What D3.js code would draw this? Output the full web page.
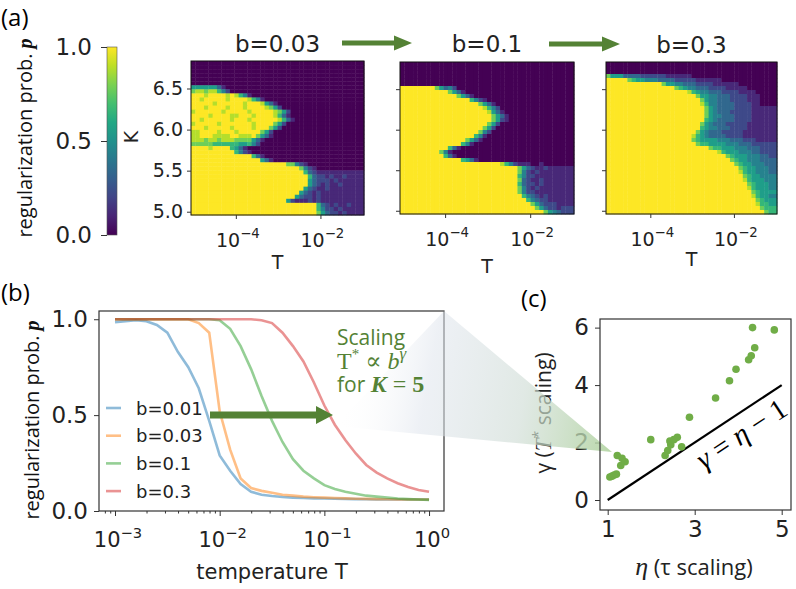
<!DOCTYPE html>
<html>
<head>
<meta charset="utf-8">
<script src="https://cdn.jsdelivr.net/npm/d3@7"></script>
<style>
  body { margin: 0; background: #fff; }
  text { font-family: "DejaVu Sans", sans-serif; }
  .ppt { font-family: "Open Sans", sans-serif; }
  .mth { font-family: "Liberation Serif", "DejaVu Serif", serif; }
</style>
</head>
<body>
<svg id="fig" width="796" height="589"></svg>
<script>
// ---------- data ----------
// (a) heatmaps: rows top (high K) -> bottom, run-length "value:count", value = p*9
const heatTitles = ["b=0.03", "b=0.1", "b=0.3"];
const heat003 = [
  "0", "0", "0", "0", "0", "0",
  "5:6,3,1,0",
  "7,8:2,7,8:2,6,4,2,0",
  "9:3,8,9:4,8,9,8,6,4,1,0",
  "9:2,8,9:5,8,9:4,8,6,4,1,0",
  "9:5,8,9:6,8,9:3,8,5,3,1,0",
  "9:3,8,9:4,8,9:3,8,9:4,8,7,5,2,0",
  "8,9:6,8,9:5,8,9:4,9,8,7,5,2,0",
  "9:4,8,9:4,8,8,9:3,8,9:4,8,6,3,1,0",
  "9:2,8,9:6,8,9:3,8,9:6,8,6,3,1,0",
  "8,9:5,8,9:7,8,9:4,7,5,2,0",
  "9:3,8,9:5,8,9:4,8,9:3,7,5,2,0",
  "8:2,9:4,8,9:3,8,9:5,7,5,2,0",
  "8,8,9:3,8,8:3,9:2,8,8:2,9,7,5,3,1,0",
  "8:3,7,8:2,7,8:3,7:2,7,7,5,3,1,0",
  "7,7,7:3,6:2,6,6:3,5:2,6,4,2,0",
  "9:4,8,9:4,6,5,3,1,0",
  "9:10,6,4,2,1,0",
  "9:14,6,3,1,0",
  "9:16,5,3,1,0",
  "9:22,7:2,4,2,1,0",
  "9:25,7,4,2,1,0",
  "9:26,6,3,2,1",
  "9:27,6,3,2:2,1,2,1:2,2,1",
  "9:27,5,3,2:3,1,2,1",
  "9:27,5,3,2,1,2,1:2,2,1",
  "9:26,5,3,2,1:2,2,1",
  "9:25,5,3,2,1,2,1",
  "9:24,5,3,2:2,1,2,1",
  "9:22,5,2,1:3,2,1,2,1",
  "9:29,6,3,2,1,2,1:2,2,1",
  "9:29,6,4,2:2,1,2,1",
  "9:29,7,5,3,2:2,1,2,1"
];
const heat01 = [
  "0", "0", "0", "0", "0", "0",
  "9:8,7,5,3,4,2,0",
  "9:11,7,5,3,1,0",
  "9:13,7,5,3,1,0",
  "9:16,6,4,2,1,0",
  "9:18,7,5,3,1,0",
  "9:19,8,6,4,2,0",
  "9:20,8,5,3,1,0",
  "9:21,7,5,3,1,0",
  "9:21,7,5,2,1,0",
  "9:20,7,5,2,0",
  "9:19,7,5,2,0",
  "9:18,7,4,2,0",
  "9:17,6,4,1,0",
  "9:15,7,5,3,1,0",
  "9:14,6,4,1,0",
  "9:11,6,3,1,0",
  "9:9,7,4,1,0",
  "9:10,6,3,1,0",
  "9:14,6,5,3,1,0",
  "9:23,8,6,4,2,1:3,0:2,1,0",
  "9:27,7,5,3,2,1:2,2,1",
  "9:27,7,4,2,1,2,1",
  "9:27,6,4,2:2,1",
  "9:27,7,3,2,1:2,2,1",
  "9:27,6,3,2:2,1,2,1",
  "9:27,7,4,2,1,2,1",
  "9:27,7,4,2:2,1",
  "9:28,6,4,3,2,1,2,1",
  "9:29,6,4,3,2:2,1",
  "9:30,7,5,3,2:3,1",
  "9:31,7,5,3,2:2,1,2",
  "9:33,7,5,4,3,2"
];
const heat03 = [
  "0", "0", "0",
  "7,5:3,3:4,2:6,1:6,0",
  "9:5,7,6,5:2,4:3,3:4,2:5,1:6,0",
  "9:13,7,5:2,4:2,3:3,2:4,1:6,0",
  "9:16,7,6,5,4:2,3:3,2:4,1:5,0",
  "9:19,8,6,5,4:2,3:3,2:4,1:4,0",
  "9:21,7,5:2,4:2,3:3,2:4,1:3,0",
  "9:22,7,5,4:2,3:3,2:4,1:3,0",
  "9:22,8,6,4:2,3:4,2:4,1:2,0",
  "9:23,7,5,4,3:4,2:4,1",
  "9:23,7,5,4,3:3,2:5,1",
  "9:23,7,5,4:2,3:3,2:4,1",
  "9:23,6,5,4,3:4,2:4,1",
  "9:22,7,5,4,3:3,2:5,1",
  "9:22,6,5,4:2,3:3,2:4,1",
  "9:21,7,5,4,3:3,2:5,1",
  "9:20,8,6,5,4,3:4,2:4,1",
  "9:20,7,6,5:4,4:3,3:3,2:3,1",
  "9:21,7,6:2,5:4,4:3,3:3,2",
  "9:24,7,6:2,5:3,4:3,3:3,2",
  "9:26,8,6,5:3,4:3,3:2,2",
  "9:28,7,6,5:3,4:3,3:2,2",
  "9:29,7,6,5:2,4:3,3",
  "9:30,7,6,5:2,4:3,3",
  "9:31,7,6,5:2,4:3,3",
  "9:31,8,6,5:2,4:3,3",
  "9:32,7,6,5:2,4",
  "9:32,8,6,5:3,4",
  "9:33,7,6,5:3,4",
  "9:33,8,6,5:3,4",
  "9:34,7,6,5",
  "9:34,8,6,5:2,4",
  "9:35,7,6,5",
  "9:35,8,6:2,5",
  "9:36,7,6",
  "9:37,7,6"
];
const heatCols = 40;
const logTRange = [-5.06, -0.97];
const kRange = [4.96, 6.835];
const kTicks = [5.0, 5.5, 6.0, 6.5];
const tTicksA = [-4, -2];
const cbTicks = [0, 0.5, 1];

// (b) p versus temperature
const legendB = ["b=0.01", "b=0.03", "b=0.1", "b=0.3"];
const logTB = [-3.0, -2.9, -2.8, -2.7, -2.6, -2.5, -2.4, -2.3, -2.2, -2.1, -2.0,
  -1.9, -1.8, -1.7, -1.6, -1.5, -1.4, -1.3, -1.2, -1.1, -1.0,
  -0.9, -0.8, -0.7, -0.6, -0.5, -0.4, -0.3, -0.2, -0.1, 0.0];
const pB001 = [0.985, 0.99, 0.995, 0.99, 0.97, 0.93, 0.83, 0.75, 0.64, 0.47, 0.29,
  0.21, 0.14, 0.10, 0.085, 0.078, 0.073, 0.07, 0.068, 0.066, 0.065,
  0.064, 0.063, 0.062, 0.061, 0.06, 0.06, 0.06, 0.06, 0.06, 0.06];
const pB003 = [1, 1, 1, 1, 1, 1, 1, 1, 0.98, 0.93, 0.52,
  0.32, 0.17, 0.12, 0.105, 0.095, 0.085, 0.08, 0.075, 0.072, 0.07,
  0.068, 0.066, 0.064, 0.063, 0.062, 0.061, 0.06, 0.06, 0.06, 0.06];
const pB01 = [1, 1, 1, 1, 1, 1, 1, 1, 1, 1, 0.995,
  0.95, 0.86, 0.74, 0.6, 0.47, 0.36, 0.27, 0.21, 0.17, 0.135,
  0.115, 0.1, 0.09, 0.08, 0.075, 0.07, 0.065, 0.062, 0.06, 0.058];
const pB03 = [1, 1, 1, 1, 1, 1, 1, 1, 1, 1, 1,
  1, 1, 1, 0.995, 0.98, 0.93, 0.86, 0.78, 0.67, 0.55,
  0.45, 0.37, 0.30, 0.24, 0.20, 0.17, 0.145, 0.125, 0.11, 0.10];
const colorsB = ["#1f77b4", "#ff7f0e", "#2ca02c", "#d62728"];
const pTicksB = [0, 0.5, 1];
const tTicksB = [-3, -2, -1, 0];

// (c) gamma versus eta
const etaC = [1.05, 1.10, 1.15, 1.20, 1.22, 1.33, 1.40, 1.30, 1.99, 2.32, 2.38, 2.45, 2.43,
  2.52, 2.60, 2.70, 2.88, 3.48, 3.80, 3.95, 4.24, 4.30, 4.38, 4.33, 4.83];
const gammaC = [0.80, 0.83, 0.87, 0.90, 1.55, 1.45, 1.33, 1.20, 2.10, 1.55, 1.72, 1.92, 2.05,
  2.10, 2.18, 1.85, 2.88, 3.55, 4.15, 4.55, 4.88, 5.02, 5.30, 6.00, 5.92];
const refEta = [1, 5];
const refGamma = [0, 4];
const etaTicks = [1, 3, 5];
const gammaTicks = [0, 2, 4, 6];

// ---------- helpers ----------
const svg = d3.select("#fig");
svg.append("rect").attr("width", 796).attr("height", 589).attr("fill", "#fff");
const defs = svg.append("defs");
const dkGreen = "#548235";
const ink = "#222";

function decodeRow(s, n) {
  const out = [];
  s.split(",").forEach(function (tok) {
    const parts = tok.split(":");
    const cnt = parts.length > 1 ? +parts[1] : 1;
    for (let i = 0; i < cnt; i++) out.push(+parts[0] / 9);
  });
  while (out.length < n) out.push(out[out.length - 1]);
  return out.slice(0, n);
}

function arrow(x1, x2, y, s, hw, hl) {
  const p = d3.path();
  p.moveTo(x1, y - s / 2); p.lineTo(x2 - hl, y - s / 2); p.lineTo(x2 - hl, y - hw / 2);
  p.lineTo(x2, y); p.lineTo(x2 - hl, y + hw / 2); p.lineTo(x2 - hl, y + s / 2);
  p.lineTo(x1, y + s / 2); p.closePath();
  svg.append("path").attr("d", p.toString()).attr("fill", dkGreen);
}

function powLabel(sel, e, size) {
  sel.attr("font-size", size).attr("fill", ink).text("10");
  sel.append("tspan").attr("dy", -size * 0.45).attr("font-size", size * 0.7)
    .text(e < 0 ? "\u2212" + Math.abs(e) : String(e));
}

function styleAxis(ax, size) {
  ax.select(".domain").remove();
  ax.selectAll("line").attr("stroke", "#333");
  ax.selectAll("text").attr("font-size", size).attr("font-family", "DejaVu Sans").attr("fill", ink);
}

function probLabel(x, y, size) {
  const t = svg.append("text").attr("class", "ppt")
    .attr("transform", `translate(${x},${y}) rotate(-90)`)
    .attr("text-anchor", "middle").attr("font-size", size).attr("fill", "#111")
    .text("regularization prob. ");
  t.append("tspan").attr("class", "mth").attr("font-weight", "bold")
    .attr("font-style", "italic").text("p");
}

// ---------- (a) ----------
svg.append("text").attr("class", "ppt").attr("x", 1).attr("y", 26)
  .attr("font-size", 24).attr("fill", "#000").text("(a)");

// colorbar
const cbGrad = defs.append("linearGradient").attr("id", "cbg")
  .attr("x1", 0).attr("y1", 1).attr("x2", 0).attr("y2", 0);
d3.range(0, 1.0001, 0.1).forEach(function (o) {
  cbGrad.append("stop").attr("offset", o).attr("stop-color", d3.interpolateViridis(o));
});
const cbY = d3.scaleLinear().domain([0, 1]).range([235, 47]);
svg.append("rect").attr("x", 107).attr("y", cbY(1)).attr("width", 10)
  .attr("height", cbY(0) - cbY(1)).attr("fill", "url(#cbg)")
  .attr("stroke", "#555").attr("stroke-width", 0.6);
const cbAx = svg.append("g").attr("transform", "translate(107,0)")
  .call(d3.axisLeft(cbY).tickValues(cbTicks).tickSize(6).tickPadding(9).tickFormat(d3.format(".1f")));
styleAxis(cbAx, 23);
probLabel(32, 138, 20);

const heatPanels = [
  { title: heatTitles[0], rows: heat003, x0: 191, x1: 364, y0: 61, y1: 215, yLab: true, tY: 269, titleY: 52 },
  { title: heatTitles[1], rows: heat01, x0: 400, x1: 574, y0: 62, y1: 214, yLab: false, tY: 273, titleY: 52 },
  { title: heatTitles[2], rows: heat03, x0: 606, x1: 777, y0: 62, y1: 214, yLab: false, tY: 266, titleY: 53 }
];

heatPanels.forEach(function (P) {
  const xs = d3.scaleLog().domain([10 ** logTRange[0], 10 ** logTRange[1]]).range([P.x0, P.x1]);
  const ys = d3.scaleLinear().domain(kRange).range([P.y1, P.y0]);
  const grid = P.rows.map(function (r) { return decodeRow(r, heatCols); });
  const nR = grid.length;
  const dT = (logTRange[1] - logTRange[0]) / heatCols;
  const dK = (kRange[1] - kRange[0]) / nR;
  const cells = [];
  grid.forEach(function (row, r) {
    row.forEach(function (v, c) {
      cells.push({
        t0: 10 ** (logTRange[0] + c * dT), t1: 10 ** (logTRange[0] + (c + 1) * dT),
        kTop: kRange[1] - r * dK, kBot: kRange[1] - (r + 1) * dK, v: v
      });
    });
  });
  const g = svg.append("g");
  g.selectAll("rect.cell").data(cells).join("rect").attr("class", "cell")
    .attr("x", function (d) { return xs(d.t0); })
    .attr("y", function (d) { return ys(d.kTop); })
    .attr("width", function (d) { return xs(d.t1) - xs(d.t0) + 0.4; })
    .attr("height", function (d) { return ys(d.kBot) - ys(d.kTop) + 0.4; })
    .attr("fill", function (d) { return d3.interpolateViridis(d.v); });
  g.append("rect").attr("x", P.x0).attr("y", P.y0).attr("width", P.x1 - P.x0)
    .attr("height", P.y1 - P.y0).attr("fill", "none").attr("stroke", "#111").attr("stroke-width", 1);

  const ya = g.append("g").attr("transform", `translate(${P.x0},0)`)
    .call(d3.axisLeft(ys).tickValues(kTicks).tickSize(4).tickPadding(4)
      .tickFormat(P.yLab ? d3.format(".1f") : ""));
  styleAxis(ya, 19);
  const xa = g.append("g").attr("transform", `translate(0,${P.y1})`)
    .call(d3.axisBottom(xs).tickValues(tTicksA.map(function (e) { return 10 ** e; })).tickSize(4).tickFormat(""));
  styleAxis(xa, 17);
  tTicksA.forEach(function (e) {
    powLabel(g.append("text").attr("x", xs(10 ** e) + 2).attr("y", P.y1 + 32).attr("text-anchor", "middle"), e, 19);
  });
  g.append("text").attr("x", (P.x0 + P.x1) / 2).attr("y", P.tY).attr("text-anchor", "middle")
    .attr("font-size", 19).attr("fill", ink).text("T");
  g.append("text").attr("x", (P.x0 + P.x1) / 2).attr("y", P.titleY).attr("text-anchor", "middle")
    .attr("font-size", 23).attr("fill", ink).text(P.title);
  if (P.yLab) {
    g.append("text").attr("transform", `translate(138,137) rotate(-90)`).attr("text-anchor", "middle")
      .attr("font-size", 19).attr("fill", ink).text("K");
  }
});
arrow(342, 412, 43, 5, 15, 18);
arrow(549, 620, 44, 5, 15, 18);

// ---------- (b) ----------
svg.append("text").attr("class", "ppt").attr("x", 1).attr("y", 301)
  .attr("font-size", 24).attr("fill", "#000").text("(b)");
const xb = d3.scaleLog().domain([10 ** -3.153, 10 ** 0.143]).range([99, 444]);
const yb = d3.scaleLinear().domain([0, 1.043]).range([511, 311]);
defs.append("clipPath").attr("id", "clipb").append("rect")
  .attr("x", 99).attr("y", 311).attr("width", 345).attr("height", 200);
const seriesB = [pB001, pB003, pB01, pB03];
const lineB = d3.line()
  .x(function (d) { return xb(10 ** d[0]); })
  .y(function (d) { return yb(d[1]); });
const gb = svg.append("g").attr("clip-path", "url(#clipb)");
seriesB.forEach(function (s, i) {
  gb.append("path").datum(logTB.map(function (t, j) { return [t, s[j]]; }))
    .attr("d", lineB).attr("fill", "none").attr("stroke", colorsB[i])
    .attr("stroke-opacity", 0.5).attr("stroke-width", 2.6);
});
svg.append("rect").attr("x", 99).attr("y", 311).attr("width", 345).attr("height", 200)
  .attr("fill", "none").attr("stroke", "#333").attr("stroke-width", 1.2);
const yaB = svg.append("g").attr("transform", "translate(99,0)")
  .call(d3.axisLeft(yb).tickValues(pTicksB).tickSize(5).tickPadding(6).tickFormat(d3.format(".1f")));
styleAxis(yaB, 23);
const minorB = xb.ticks().filter(function (v) { return Math.abs(Math.log10(v) - Math.round(Math.log10(v))) > 1e-6; });
const xaBm = svg.append("g").attr("transform", "translate(0,511)")
  .call(d3.axisBottom(xb).tickValues(minorB).tickSize(2.5).tickFormat(""));
styleAxis(xaBm, 12);
const xaB = svg.append("g").attr("transform", "translate(0,511)")
  .call(d3.axisBottom(xb).tickValues(tTicksB.map(function (e) { return 10 ** e; })).tickSize(5).tickFormat(""));
styleAxis(xaB, 12);
tTicksB.forEach(function (e) {
  powLabel(svg.append("text").attr("x", xb(10 ** e) + 3).attr("y", 547).attr("text-anchor", "middle"), e, 21);
});
svg.append("text").attr("x", 272).attr("y", 579).attr("text-anchor", "middle")
  .attr("font-size", 21).attr("fill", ink).text("temperature T");
probLabel(39, 420, 20);

// legend
legendB.forEach(function (lab, i) {
  const y = 408 + i * 27.7;
  svg.append("line").attr("x1", 106).attr("x2", 121).attr("y1", y).attr("y2", y)
    .attr("stroke", colorsB[i]).attr("stroke-opacity", 0.5).attr("stroke-width", 2.6);
  svg.append("text").attr("x", 136).attr("y", y + 6.5).attr("font-size", 18).attr("fill", ink).text(lab);
});
arrow(210, 333, 415, 7, 18, 17);

// ---------- (c) ----------
svg.append("text").attr("class", "ppt").attr("x", 521).attr("y", 307)
  .attr("font-size", 24).attr("fill", "#000").text("(c)");
const xc = d3.scaleLinear().domain([0.823, 5.214]).range([600, 791]);
const yc = d3.scaleLinear().domain([-0.348, 6.3]).range([510, 319]);
const yaC = svg.append("g").attr("transform", "translate(600,0)")
  .call(d3.axisLeft(yc).tickValues(gammaTicks).tickSize(5).tickPadding(6).tickFormat(d3.format("d")));
styleAxis(yaC, 23);
const xaC = svg.append("g").attr("transform", "translate(0,510)")
  .call(d3.axisBottom(xc).tickValues(etaTicks).tickSize(5).tickPadding(6).tickFormat(d3.format("d")));
styleAxis(xaC, 23);
const ylc = svg.append("text").attr("class", "ppt")
  .attr("transform", "translate(551,413) rotate(-90)").attr("text-anchor", "middle")
  .attr("font-size", 21).attr("fill", ink);
ylc.append("tspan").text("\u03B3  (");
ylc.append("tspan").attr("class", "mth").attr("font-style", "italic").attr("font-size", 23).text("T");
ylc.append("tspan").attr("dy", -8).attr("font-size", 14).text("*");
ylc.append("tspan").attr("dy", 8).text(" scaling)");
const xlc = svg.append("text").attr("class", "ppt").attr("x", 694).attr("y", 575)
  .attr("text-anchor", "middle").attr("font-size", 22).attr("fill", ink);
xlc.append("tspan").attr("class", "mth").attr("font-style", "italic").attr("font-size", 26).text("\u03B7");
xlc.append("tspan").text("  (\u03C4 scaling)");

// funnel from the note in (b) to the cluster in (c)
const fg = defs.append("linearGradient").attr("id", "funnel").attr("gradientUnits", "userSpaceOnUse")
  .attr("x1", 340).attr("y1", 400).attr("x2", 612).attr("y2", 452);
[[0, "#ffffff", 0], [0.3, "#dce2eb", 0.5], [0.65, "#d0ddd6", 0.65], [1, "#add19b", 0.85]].forEach(function (s) {
  fg.append("stop").attr("offset", s[0]).attr("stop-color", s[1]).attr("stop-opacity", s[2]);
});
svg.append("path").attr("d", "M444,311 L612,452 L335,426 Z").attr("fill", "url(#funnel)");

svg.append("rect").attr("x", 600).attr("y", 319).attr("width", 191).attr("height", 191)
  .attr("fill", "none").attr("stroke", "#333").attr("stroke-width", 1.2);
svg.append("line").attr("x1", xc(refEta[0])).attr("y1", yc(refGamma[0]))
  .attr("x2", xc(refEta[1])).attr("y2", yc(refGamma[1])).attr("stroke", "#000").attr("stroke-width", 2.2);
svg.append("g").selectAll("circle").data(etaC.map(function (e, i) { return [e, gammaC[i]]; }))
  .join("circle").attr("cx", function (d) { return xc(d[0]); }).attr("cy", function (d) { return yc(d[1]); })
  .attr("r", 3.8).attr("fill", "#70ad47");
const ang = Math.atan2(yc(refGamma[1]) - yc(refGamma[0]), xc(refEta[1]) - xc(refEta[0])) * 180 / Math.PI;
const eMid = 3.84;
const eq = svg.append("text").attr("class", "mth")
  .attr("transform", `translate(${xc(eMid)},${yc(eMid - 1)}) rotate(${ang})`)
  .attr("x", 0).attr("y", 28).attr("text-anchor", "middle").attr("font-size", 29).attr("fill", "#000");
eq.append("tspan").attr("font-style", "italic").text("\u03B3");
eq.append("tspan").text(" = ");
eq.append("tspan").attr("font-style", "italic").text("\u03B7");
eq.append("tspan").text(" \u2212 1");

// scaling note (drawn above the funnel)
svg.append("text").attr("class", "ppt").attr("x", 337).attr("y", 345)
  .attr("font-size", 21).attr("fill", dkGreen).text("Scaling");
const n2 = svg.append("text").attr("class", "mth").attr("x", 337).attr("y", 369)
  .attr("font-size", 24).attr("fill", dkGreen);
n2.append("tspan").text("T");
n2.append("tspan").attr("dy", -10).attr("font-size", 15).text("*");
n2.append("tspan").attr("dy", 10).text(" \u221D ");
n2.append("tspan").attr("font-style", "italic").text("b");
n2.append("tspan").attr("dy", -10).attr("font-size", 17).attr("font-style", "italic").text("\u03B3");
const n3 = svg.append("text").attr("class", "ppt").attr("x", 337).attr("y", 392)
  .attr("font-size", 21).attr("fill", dkGreen);
n3.append("tspan").text("for ");
n3.append("tspan").attr("class", "mth").attr("font-size", 24).attr("font-weight", "bold")
  .attr("font-style", "italic").text("K");
n3.append("tspan").attr("class", "mth").attr("font-size", 24).text(" = ");
n3.append("tspan").attr("class", "mth").attr("font-size", 24).attr("font-weight", "bold").text("5");
</script>
</body>
</html>
